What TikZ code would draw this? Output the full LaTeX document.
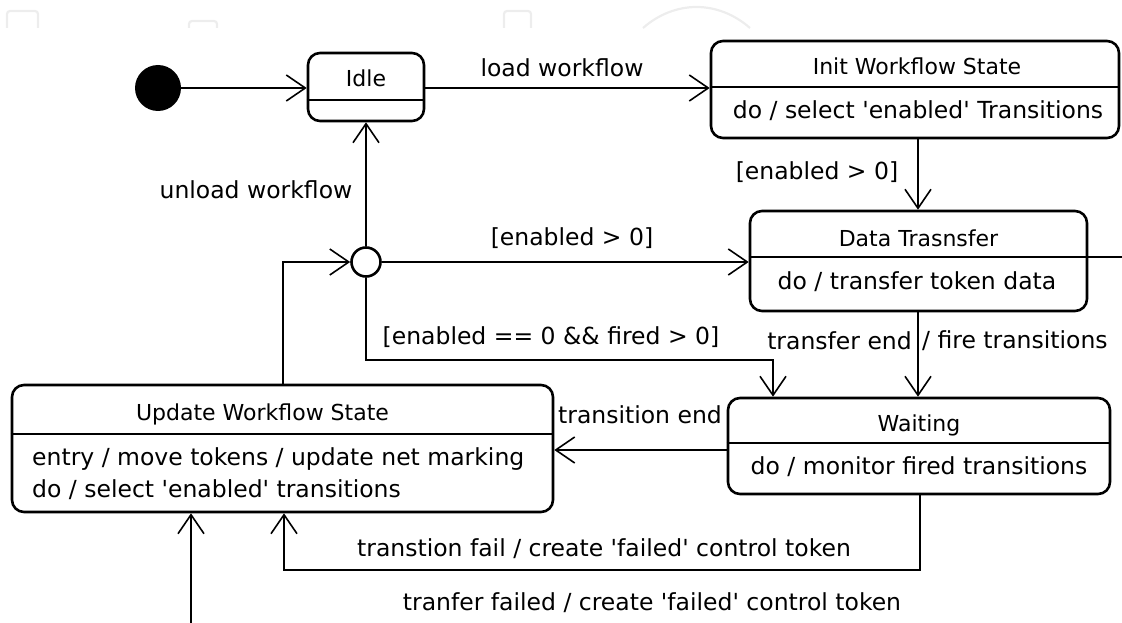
\documentclass[tikz,border=0pt]{standalone}
\usepackage{fontspec}
\setmainfont{DejaVu Sans}
\usetikzlibrary{arrows.meta}
\newcommand{\sq}{\textquotesingle}
\begin{document}
\begin{tikzpicture}[x=1pt,y=-1pt,
  statebox/.style={draw, line width=2.6pt, rounded corners=12pt, inner sep=0pt, fill=white},
  conn/.style={line width=1.6pt, -{Straight Barb[length=19pt,width=26pt,line width=1.6pt]}},
  plain/.style={line width=1.6pt},
  divider/.style={line width=1.6pt},
  txt/.style={inner sep=0pt, font=\fontsize{23.5}{27}\selectfont},
  ttl/.style={inner sep=0pt, font=\fontsize{22}{26}\selectfont},
  faint/.style={draw=black!7, line width=2.2pt, rounded corners=3pt}]
\useasboundingbox (0,0) rectangle (1122,623);
% faint watermark remains
\draw[faint] (7,28) -- (7,11) -- (38,11) -- (38,28);
\draw[faint] (189,28) -- (189,21) -- (217,21) -- (217,28);
\draw[faint] (504,28) -- (504,11) -- (531,11) -- (531,28);
\draw[draw=black!7, line width=2.2pt] (643,28) .. controls (675,0) and (718,0) .. (750,28);
% states
\node[statebox, minimum width=116pt, minimum height=68pt] (idle) at (366,87) {};
\draw[divider] (idle.west |- 0,100) -- (idle.east |- 0,100);
\node[ttl] (idlet) at (366,78) {Idle};

\node[statebox, minimum width=408pt, minimum height=97pt] (initws) at (915,89.5) {};
\draw[divider] (initws.west |- 0,87) -- (initws.east |- 0,87);
\node[ttl] (initt) at (917,66) {Init Workflow State};
\node[txt] (initb) at (918,111) {do / select \sq enabled\sq{} Transitions};

\node[statebox, minimum width=337pt, minimum height=100pt] (data) at (918.5,261) {};
\draw[divider] (data.west |- 0,257) -- (data.east |- 0,257);
\node[ttl] (datat) at (918.5,238) {Data Trasnsfer};
\node[txt] (datab) at (917,282) {do / transfer token data};

\node[statebox, minimum width=382pt, minimum height=96pt] (waiting) at (919,446) {};
\draw[divider] (waiting.west |- 0,443) -- (waiting.east |- 0,443);
\node[ttl] (waitt) at (919,425) {Waiting};
\node[txt] (waitb) at (919,467) {do / monitor fired transitions};

\node[statebox, minimum width=541pt, minimum height=127pt] (update) at (282.5,448.5) {};
\draw[divider] (update.west |- 0,434) -- (update.east |- 0,434);
\node[ttl] (updt) at (262.5,414) {Update Workflow State};
\node[txt, anchor=west] (updb1) at (32,459) {entry / move tokens / update net marking};
\node[txt, anchor=west] (updb2) at (32,490) {do / select \sq enabled\sq{} transitions};

% pseudo states
\node[circle, fill=black, minimum size=46pt, inner sep=0pt] (start) at (158,88) {};
\node[circle, draw, line width=2.6pt, fill=white, minimum size=29pt, inner sep=0pt] (jn) at (366,262) {};

% helper coordinates
\coordinate (c1) at (773,360);
\coordinate (c2) at (0,450);
\coordinate (c3) at (920,570);
\coordinate (c4) at (284,570);
\coordinate (c5) at (191,623);
\coordinate (c6) at (1122,257);
\coordinate (c7) at (0,88);

% connectors
\draw[conn] (start.east) -- (idle.west |- c7);
\draw[conn] (idle.east |- c7) -- (initws.west |- c7);
\draw[conn] (initws.south -| 918,0) -- (data.north -| 918,0);
\draw[conn] (jn.north) -- (idle.south);
\draw[conn] (jn.east) -- (jn.east -| data.west);
\draw[conn] (jn.south) |- (c1) -- (c1 |- waiting.north);
\draw[conn] (data.south -| 918,0) -- (waiting.north -| 918,0);
\draw[conn] (waiting.west |- c2) -- (update.east |- c2);
\draw[conn] (update.north -| 283,0) |- (jn.west);
\draw[conn] (waiting.south -| c3) -- (c3) -- (c4) -- (c4 |- update.south);
\draw[conn] (c5) -- (c5 |- update.south);
\draw[plain] (data.east |- c6) -- (c6);

% labels
\node[txt] (l1) at (562,68) {load workflow};
\node[txt] (l2) at (817,172) {[enabled > 0]};
\node[txt] (l3) at (256,190) {unload workflow};
\node[txt] (l4) at (572,238) {[enabled > 0]};
\node[txt] (l5) at (551,337) {[enabled == 0 \&\& fired > 0]};
\node[txt, anchor=east] (l6a) at (912,341) {transfer end};
\node[txt, anchor=west] (l6b) at (922,341) {/ fire transitions};
\node[txt] (l7) at (640,415) {transition end};
\node[txt] (l8) at (604,549) {transtion fail / create \sq failed\sq{} control token};
\node[txt] (l9) at (652,603) {tranfer failed / create \sq failed\sq{} control token};
\end{tikzpicture}
\end{document}
